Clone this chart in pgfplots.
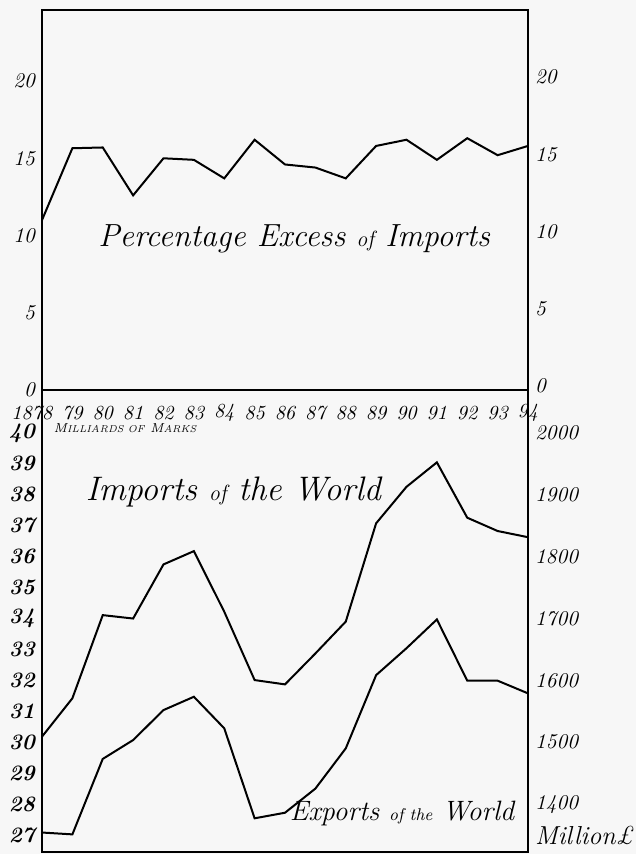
\documentclass[border=0pt]{standalone}
\usepackage{fontspec}
\usepackage{pgfplots}
\pgfplotsset{compat=1.18}
\pgfplotstableread{
year pct
1878 11.0
1879 15.65
1880 15.7
1881 12.6
1882 15.0
1883 14.9
1884 13.7
1885 16.2
1886 14.6
1887 14.4
1888 13.7
1889 15.8
1890 16.2
1891 14.9
1892 16.3
1893 15.2
1894 15.8
}\pcttable
\pgfplotstableread{
year imports exports
1878 30.18 27.08
1879 31.42 27.02
1880 34.11 29.46
1881 34.00 30.07
1882 35.75 31.04
1883 36.18 31.47
1884 34.22 30.45
1885 32.01 27.54
1886 31.87 27.72
1887 32.87 28.50
1888 33.90 29.80
1889 37.08 32.17
1890 38.26 33.04
1891 39.05 33.97
1892 37.26 31.99
1893 36.83 31.99
1894 36.63 31.58
}\worldtable
\begin{document}
\begin{tikzpicture}
\fill[gray!6] (0,0) rectangle (318pt,-427pt);
\pgfplotsset{
  common/.style={scale only axis, width=243pt, xmin=1878, xmax=1894,
    tick style={draw=none}, axis line style={line width=0.8pt},
    /pgf/number format/assume math mode=true,
    /pgf/number format/1000 sep={}, clip=false},
}
% ---------- top panel ----------
\begin{axis}[common, at={(21pt,-195pt)}, anchor=south west, height=190pt,
  ymin=0, ymax=24.6, xtick=\empty, ytick={0,5,10,15,20},
  yticklabel style={font=\fontsize{10.5}{12}\selectfont\itshape}]
\addplot[black, line width=1pt] table[x=year, y=pct] {\pcttable};
\node[anchor=base, font=\fontsize{16}{18}\selectfont\itshape\addfontfeature{FakeBold=0.6}] at (axis cs:1886.3,9.3)
  {Percentage Excess {\fontsize{11}{12}\selectfont of} Imports};
\end{axis}
\begin{axis}[common, at={(21pt,-195pt)}, anchor=south west, height=190pt,
  ymin=0, ymax=24.6, axis y line*=right, axis x line=none, ytick={0,5,10,15,20},
  yticklabel style={font=\fontsize{10.5}{12}\selectfont\itshape, yshift=2pt}]
\end{axis}
% ---------- bottom panel ----------
\begin{axis}[common, at={(21pt,-426pt)}, anchor=south west, height=231pt,
  ymin=26.45, ymax=41.39, ytick={27,28,...,40},
  yticklabel style={font=\fontsize{11}{12}\selectfont\bfseries\itshape},
  xtick={1878,1879,...,1894},
  xticklabels={\makebox[0pt][r]{18}78,79,80,81,82,83,84,85,86,87,88,89,90,91,92,93,94},
  xticklabel pos=upper,
  xticklabel style={anchor=center, yshift=-11.5pt, font=\fontsize{10}{12}\selectfont\itshape\addfontfeature{FakeBold=1}}]
\addplot[black, line width=1pt] table[x=year, y=imports] {\worldtable};
\addplot[black, line width=1pt] table[x=year, y=exports] {\worldtable};
\node[anchor=west, font=\fontsize{6.5}{7}\selectfont\itshape] at (axis cs:1878.15,40.16)
  {M{\fontsize{5}{6}\selectfont ILLIARDS OF} M{\fontsize{5}{6}\selectfont ARKS}};
\node[anchor=base, font=\fontsize{17}{20}\selectfont\itshape\addfontfeature{FakeBold=2}] at (axis cs:1884.3,37.83)
  {Imports {\fontsize{11}{12}\selectfont of} the World};
\node[anchor=base, font=\fontsize{14}{17}\selectfont\itshape\addfontfeature{FakeBold=2}] at (axis cs:1889.85,27.48)
  {Exports {\fontsize{8.5}{10}\selectfont of the} World};
\end{axis}
\begin{axis}[common, at={(21pt,-426pt)}, anchor=south west, height=231pt,
  ymin=1322.5, ymax=2069.5, axis y line*=right, axis x line=none,
  ytick={1400,1500,...,2000},
  yticklabel style={font=\fontsize{10.5}{12}\selectfont\itshape}]
\node[anchor=south west, font=\fontsize{13}{15}\selectfont\itshape]
  at (rel axis cs:1,0) {Million£};
\end{axis}
\pgfresetboundingbox
\path[use as bounding box] (0,0) rectangle (318pt,-427pt);
\end{tikzpicture}
\end{document}
